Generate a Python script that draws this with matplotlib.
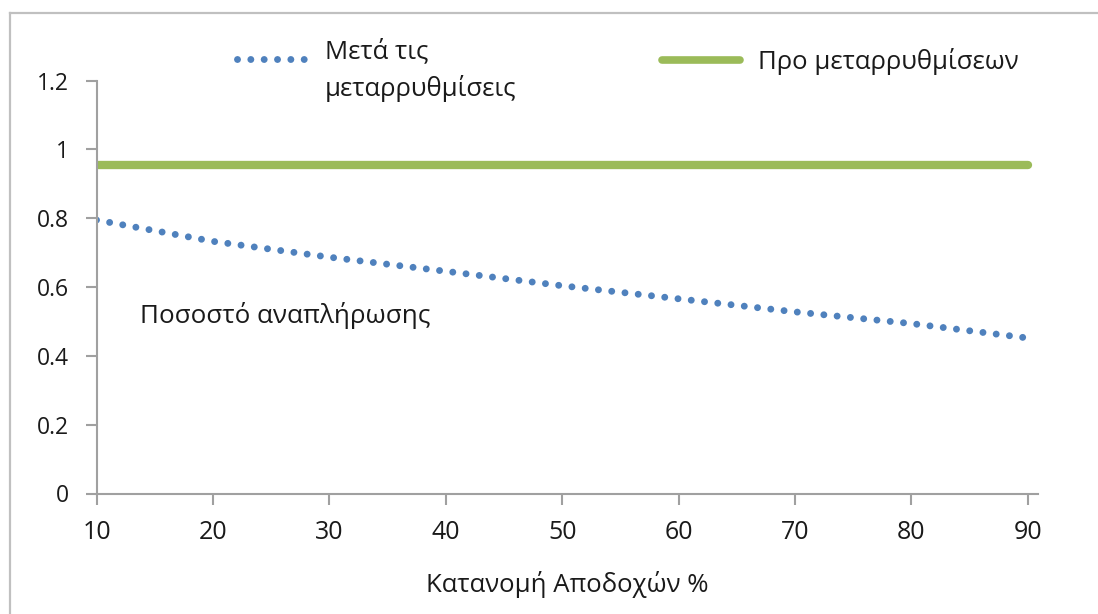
import matplotlib
matplotlib.use('Agg')
import matplotlib.pyplot as plt
from matplotlib.lines import Line2D

plt.rcParams['font.family'] = ['Open Sans', 'DejaVu Sans']

# data
x_vals = [10, 20, 30, 40, 50, 60, 70, 80, 90]
after_reform = [0.795, 0.733, 0.687, 0.646, 0.604, 0.566, 0.528, 0.494, 0.452]
before_reform = [0.956, 0.956, 0.956, 0.956, 0.956, 0.956, 0.956, 0.956, 0.956]

x_ticks = [10, 20, 30, 40, 50, 60, 70, 80, 90]
y_ticks = [0, 0.2, 0.4, 0.6, 0.8, 1.0, 1.2]
y_tick_labels = ['0', '0.2', '0.4', '0.6', '0.8', '1', '1.2']

label_after = 'Μετά τις\nμεταρρυθμίσεις'
label_before = 'Προ μεταρρυθμίσεων'
note_text = 'Ποσοστό αναπλήρωσης'
x_title = 'Κατανομή Αποδοχών %'

blue = '#4f81bd'
green = '#9bbb59'
axis_grey = '#a0a0a0'
text_col = '#1a1a1a'

W, H = 1098, 614
fig = plt.figure(figsize=(W / 100, H / 100), dpi=100)
ax = fig.add_axes([96.5 / W, 1 - 493.5 / H, (1038.3 - 96.5) / W, (493.5 - 80.7) / H])

dot_style = dict(color=blue, lw=5, linestyle=(0, (0.001, 1.92)),
                 dash_capstyle='round')
ax.plot(x_vals, before_reform, color=green, lw=6, solid_capstyle='round')
ax.plot(x_vals, after_reform, **dot_style)

ax.set_xlim(10, 90.9)
ax.set_ylim(0, 1.2)
ax.set_xticks(x_ticks)
ax.set_yticks(y_ticks)
ax.set_yticklabels(y_tick_labels)

for side in ['top', 'right']:
    ax.spines[side].set_visible(False)
for side in ['left', 'bottom']:
    ax.spines[side].set_color(axis_grey)
    ax.spines[side].set_linewidth(1.5)

ax.tick_params(axis='both', direction='out', length=8, width=1.5, color=axis_grey,
               labelcolor=text_col)
ax.tick_params(axis='y', labelsize=16.5, pad=12)
ax.tick_params(axis='x', labelsize=18, pad=11)

ax.text(13.7, 0.496, note_text, fontsize=18.7, color=text_col, va='baseline')
ax.set_xlabel(x_title, fontsize=18.5, color=text_col, labelpad=19)

# legend drawn by hand (two separate entries at the top)
fig.add_artist(Line2D([237 / W, 316 / W], [1 - 59 / H, 1 - 59 / H], **dot_style))
fig.text(325 / W, 1 - 96 / H, label_after, fontsize=18.5, color=text_col,
         va='baseline', linespacing=1.5)
fig.add_artist(Line2D([662 / W, 740 / W], [1 - 60 / H, 1 - 60 / H], color=green,
                      lw=5.5, solid_capstyle='round'))
fig.text(758 / W, 1 - 69 / H, label_before, fontsize=18.5, color=text_col, va='baseline')

# outer chart frame, only top and left edges are in view
frame_y = 1 - 12.7 / H
frame_x = 10 / W
fig.add_artist(Line2D([frame_x, 1.01], [frame_y, frame_y], color='#c0c0c0', lw=1.6))
fig.add_artist(Line2D([frame_x, frame_x], [-0.01, frame_y], color='#c0c0c0', lw=1.6))

fig.savefig('out.png', dpi=100)
